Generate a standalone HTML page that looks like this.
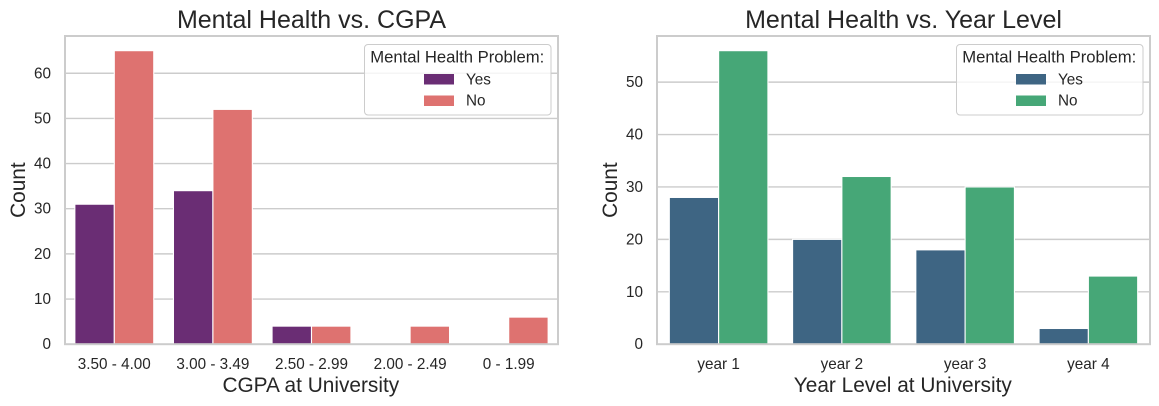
<!DOCTYPE html>
<html>
<head>
<meta charset="utf-8">
<style>
html,body{margin:0;padding:0;background:#fff;}
svg{display:block;font-family:"Liberation Sans",Arial,sans-serif;fill:#262626;}
</style>
</head>
<body>
<svg id="chart" xmlns="http://www.w3.org/2000/svg" width="1159" height="406" viewBox="0 0 1159 406"></svg>
<script>
var cgpaCategories = ["3.50 - 4.00", "3.00 - 3.49", "2.50 - 2.99", "2.00 - 2.49", "0 - 1.99"];
var cgpaYes = [31, 34, 4, 0, 0];
var cgpaNo = [65, 52, 4, 4, 6];
var cgpaTicks = [0, 10, 20, 30, 40, 50, 60];
var yearCategories = ["year 1", "year 2", "year 3", "year 4"];
var yearYes = [28, 20, 18, 3];
var yearNo = [56, 32, 30, 13];
var yearTicks = [0, 10, 20, 30, 40, 50];

var NS = "http://www.w3.org/2000/svg";
var root = document.getElementById("chart");

function make(parent, tag, attrs, text) {
  var el = document.createElementNS(NS, tag);
  for (var k in attrs) { el.setAttribute(k, attrs[k]); }
  if (text !== undefined) { el.textContent = text; }
  parent.appendChild(el);
  return el;
}

function drawPanel(cfg) {
  var g = make(root, "g", {});
  
  
  var top = 36, bottom = 344.2;
  var left = cfg.left, right = cfg.right;
  var maxVal = Math.max.apply(null, cfg.yes.concat(cfg.no)) * 1.05;
  function yScale(v) { return bottom - (v / maxVal) * (bottom - top); }
  var band = (right - left) / cfg.categories.length;
  function xCenter(i) { return left + band * (i + 0.5); }
  var barW = band * 0.4;

  cfg.ticks.forEach(function (t) {
    var y = yScale(t);
    if (t > 0) {
      var line = make(g, "line", {x1: left, x2: right, y1: y, y2: y, stroke: "#cccccc", "stroke-width": 1.4});
      
      
    }
    var lab = make(g, "text", {x: left - 14, y: y + 5, "text-anchor": "end", "font-size": 15.28}, String(t));
    
    
  });

  cfg.categories.forEach(function (c, i) {
    var cx = xCenter(i);
    var lab = make(g, "text", {x: cx, y: 369, "text-anchor": "middle", "font-size": 15.28}, c);
    
    
    if (cfg.yes[i] > 0) {
      var a = make(g, "rect", {x: cx - barW, y: yScale(cfg.yes[i]), width: barW, height: yScale(0) - yScale(cfg.yes[i]), fill: cfg.yesColor, stroke: "#ffffff", "stroke-width": 1.1});
      
      
    }
    if (cfg.no[i] > 0) {
      var b = make(g, "rect", {x: cx, y: yScale(cfg.no[i]), width: barW, height: yScale(0) - yScale(cfg.no[i]), fill: cfg.noColor, stroke: "#ffffff", "stroke-width": 1.1});
      
      
    }
  });

  var frame = make(g, "rect", {x: left, y: top, width: right - left, height: bottom - top, fill: "none", stroke: "#cccccc", "stroke-width": 2});
  
  

  var mid = (left + right) / 2;
  var title = make(g, "text", {x: mid, y: 28, "text-anchor": "middle", "font-size": 25}, cfg.title);
  
  
  var xt = make(g, "text", {x: mid - 0.7, y: 392, "text-anchor": "middle", "font-size": 20.83}, cfg.xLabel);
  
  
  var yX = left - 40, yY = (top + bottom) / 2;
  var yt = make(g, "text", {x: yX, y: yY, "text-anchor": "middle", "font-size": 20.83, transform: "rotate(-90 " + yX + " " + yY + ")"}, "Count");
  
  

  var lg = make(g, "g", {});
  
  
  var lx = right - 194, lw = 186.5;
  var box = make(lg, "rect", {x: lx + 0.5, y: 44.5, width: lw, height: 70.5, rx: 3.5, fill: "#ffffff", "fill-opacity": 0.8, stroke: "#cccccc", "stroke-width": 1});
  
  
  var lt = make(lg, "text", {x: lx + lw / 2, y: 62.5, "text-anchor": "middle", "font-size": 16.67}, "Mental Health Problem:");
  
  
  var s1 = make(lg, "rect", {x: lx + 60, y: 74, width: 30, height: 10.5, fill: cfg.yesColor});
  
  
  var t1 = make(lg, "text", {x: lx + 102, y: 84.5, "font-size": 15.28}, "Yes");
  
  
  var s2 = make(lg, "rect", {x: lx + 60, y: 95.5, width: 30, height: 10.5, fill: cfg.noColor});
  
  
  var t2 = make(lg, "text", {x: lx + 102, y: 105.5, "font-size": 15.28}, "No");
  
  
}

drawPanel({
  name: "cgpa", left: 65, right: 558,
  categories: cgpaCategories, yes: cgpaYes, no: cgpaNo, ticks: cgpaTicks,
  yesColor: "#6a2d74", noColor: "#de7270",
  title: "Mental Health vs. CGPA", xLabel: "CGPA at University"
});
drawPanel({
  name: "year-level", left: 657, right: 1150,
  categories: yearCategories, yes: yearYes, no: yearNo, ticks: yearTicks,
  yesColor: "#3e6583", noColor: "#46a777",
  title: "Mental Health vs. Year Level", xLabel: "Year Level at University"
});
</script>
</body>
</html>
